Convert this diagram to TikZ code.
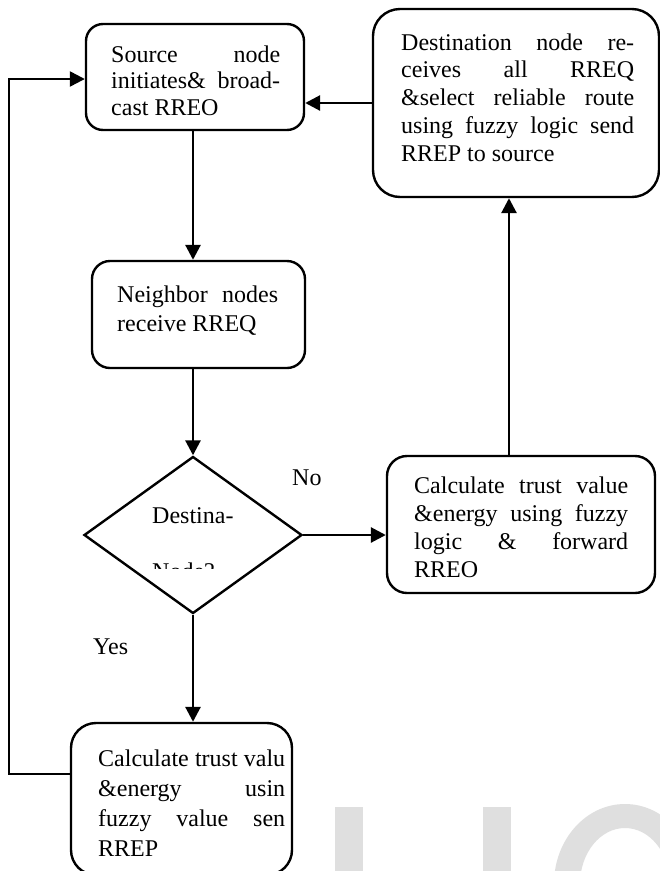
\documentclass[tikz,border=0pt]{standalone}
\usepackage{fontspec}
\setmainfont{Liberation Serif}
\usetikzlibrary{arrows.meta,shapes.geometric}
\definecolor{wm}{HTML}{DFDFDF}
\newcommand{\jline}[2]{\makebox[#1][s]{#2}\par}
\begin{document}
\begin{tikzpicture}[x=1pt,y=-1pt,
  box/.style={draw, line width=2.4pt, rounded corners=#1, inner sep=0pt},
  box/.default=18pt,
  arr/.style={line width=2.8pt, -{Triangle[length=15pt,width=15pt]}},
  txt/.style={inner sep=0pt, anchor=base west, font=\fontsize{24}{28}\selectfont}]
\clip (0,0) rectangle (660,871);
\fill[white] (0,0) rectangle (660,871);
% watermark shapes
\fill[wm] (335,807) rectangle (363,880);
\fill[wm] (483,807) rectangle (511,880);
\fill[wm, even odd rule] (625,884) ellipse [x radius=71, y radius=80]
  (625,884) ellipse [x radius=45, y radius=56];
% boxes
\node[box=17pt, minimum width=218pt, minimum height=106pt] (src) at (195,77) {};
\node[box=27pt, minimum width=286pt, minimum height=188pt] (dest) at (516,103) {};
\node[box=18pt, minimum width=213pt, minimum height=107pt] (nbr) at (198.5,314.5) {};
\node[draw, diamond, line width=2.4pt, inner sep=0pt, minimum width=218pt, minimum height=157pt] (dia) at (193,535) {};
\node[box=20pt, minimum width=268pt, minimum height=137pt] (calcR) at (521,524.5) {};
\node[box=25pt, minimum width=221pt, minimum height=152pt] (calcB) at (181.5,799) {};
% texts
\node[txt] (srct) at (111,62) {\parbox[t]{169pt}{\fontsize{24}{26.7}\selectfont
  \jline{169pt}{Source node}\jline{169pt}{initiates\& broad-}cast RREO}};
\node[txt] (destt) at (401,50) {\parbox[t]{233pt}{\fontsize{24}{27.75}\selectfont
  \jline{233pt}{Destination node re-}\jline{233pt}{ceives all RREQ}\jline{233pt}{\&select reliable route}\jline{233pt}{using fuzzy logic send}RREP to source}};
\node[txt] (nbrt) at (117,302) {\parbox[t]{161pt}{\fontsize{24}{29}\selectfont
  \jline{161pt}{Neighbor nodes}receive RREQ}};
\node[txt] (calcRt) at (414,493) {\parbox[t]{214pt}{\fontsize{24}{28}\selectfont
  \jline{214pt}{Calculate trust value}\jline{214pt}{\&energy using fuzzy}\jline{214pt}{logic \& forward}RREO}};
\begin{scope}
\clip (0,0) rectangle (660,855);
\node[txt] (calcBt) at (98,766) {\parbox[t]{187pt}{\fontsize{24}{30.3}\selectfont
  \jline{187pt}{Calculate trust valu}\jline{187pt}{\&energy usin}\jline{187pt}{fuzzy value sen}RREP}};
\end{scope}
\node[txt] (diat) at (152,523) {Destina-};
\begin{scope}
\clip (100,545) rectangle (300,568);
\node[txt] (diat2) at (152,579) {Node?};
\end{scope}
\node[txt] (no) at (292,485) {No};
\node[txt] (yes) at (93,654) {Yes};
% connectors
\coordinate (upx) at (509,0);
\coordinate (c1) at (9,774);
\coordinate (c2) at (9,79);
\draw[arr] (src.south -| dia.north) -- (nbr.north -| dia.north);
\draw[arr] (nbr.south -| dia.north) -- (dia.north);
\draw[arr] (dia.south) -- (calcB.north -| dia.south);
\draw[arr] (dia.east) -- (dia.east -| calcR.west);
\draw[arr] (calcR.north -| upx) -- (dest.south -| upx);
\draw[arr] (dest.west) -- (dest.west -| src.east);
\draw[arr, line width=2.4pt] (calcB.west |- c1) -- (c1) -- (c2) -- (src.west |- c2);
\end{tikzpicture}
\end{document}
